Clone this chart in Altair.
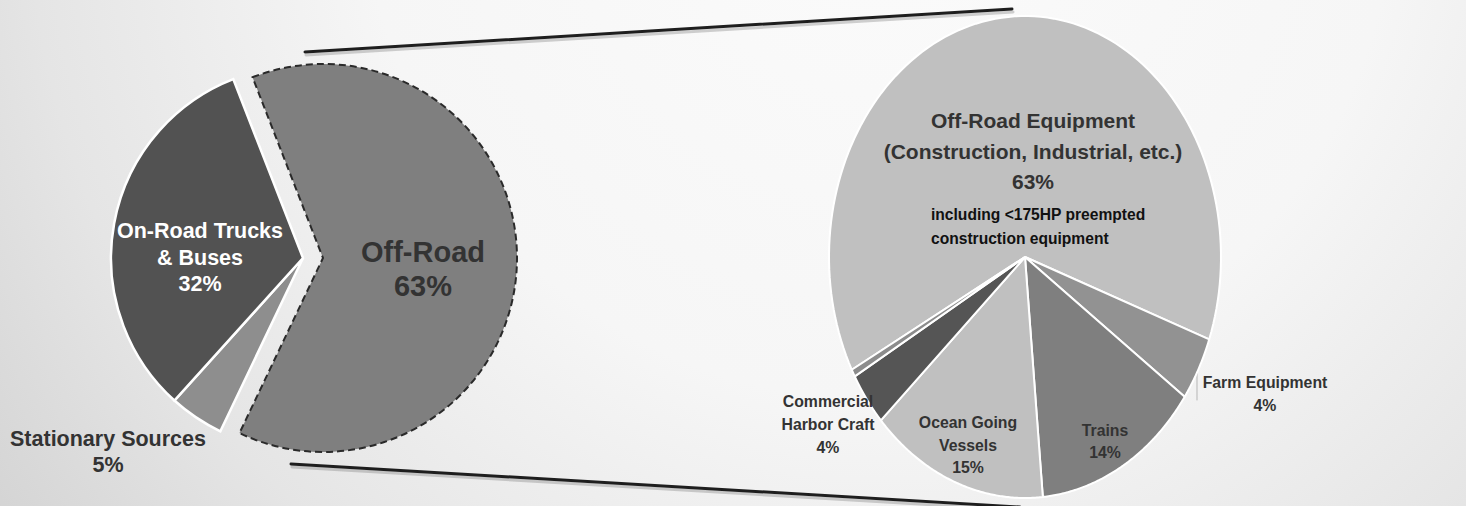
import math
import altair as alt
import pandas as pd

# ---------------- data ----------------
left_names = ["Off-Road", "Stationary Sources", "On-Road Trucks & Buses"]
left_values = [63.0, 4.6, 32.4]
left_colors = ["#7f7f7f", "#8e8e8e", "#525252"]

sub_names = ["Off-Road Equipment", "Farm Equipment", "Trains",
             "Ocean Going Vessels", "Commercial Harbor Craft", "Other"]
sub_values = [63.3, 4.3, 13.7, 14.6, 3.6, 0.5]
sub_colors = ["#c0c0c0", "#929292", "#7f7f7f", "#c0c0c0", "#555555", "#8c8c8c"]

W, H = 1466, 506
LEFT_START = math.radians(-21.3)
RIGHT_START = math.radians(-117.9)
N = 120
SANS = "Liberation Sans, Arial, sans-serif"


def pct(v):
    return f"{round(v)}%"


left_df = pd.DataFrame({"name": left_names, "value": left_values,
                        "order": list(range(len(left_names)))})
sub_df = pd.DataFrame({"name": sub_names, "value": sub_values,
                       "order": list(range(len(sub_names)))})

one = alt.Data(values=[{}])

# ---------------- background ----------------
bg = alt.Chart(one).mark_rect(
    fill={"gradient": "radial", "x1": 0.6, "y1": 0.25, "r1": 0,
          "x2": 0.6, "y2": 0.25, "r2": 1.0,
          "stops": [{"offset": 0, "color": "#fbfbfb"},
                    {"offset": 0.35, "color": "#f6f6f6"},
                    {"offset": 0.58, "color": "#e5e5e5"},
                    {"offset": 0.75, "color": "#d3d3d3"},
                    {"offset": 1.0, "color": "#bdbdbd"}]}
).encode(x=alt.value(0), x2=alt.value(W), y=alt.value(0), y2=alt.value(H))


def rule(x1, y1, x2, y2, color, width, opacity=1.0):
    return alt.Chart(one).mark_rule(color=color, strokeWidth=width, opacity=opacity,
                                    strokeCap="round").encode(
        x=alt.value(x1), y=alt.value(y1), x2=alt.value(x2), y2=alt.value(y2))


lines = [
    rule(306, 55, 1013, 12, "#7a7a7a", 3, 0.35),
    rule(305, 52, 1012, 9, "#1e1e1e", 3),
    rule(292, 467, 1021, 510, "#7a7a7a", 3, 0.35),
    rule(291, 464, 1020, 507, "#1e1e1e", 3),
    rule(1197, 373, 1197, 400, "#b5b5b5", 1),
]

# ---------------- left pie ----------------
left_total = sum(left_values)
theta_scale = alt.Scale(domain=[0, left_total],
                        range=[LEFT_START, LEFT_START + 2 * math.pi])
color_left = alt.Scale(domain=left_names, range=left_colors)

left_base = alt.Chart(left_df).transform_window(
    cum="sum(value)", frame=[None, 0], sort=[alt.SortField("order")]
).transform_calculate(t0="datum.cum - datum.value")

left_main = left_base.transform_filter(alt.datum.name != "Off-Road").mark_arc(
    radius=192, stroke="white", strokeWidth=2.5
).encode(
    theta=alt.Theta("t0:Q", scale=theta_scale),
    theta2="cum:Q",
    color=alt.Color("name:N", scale=color_left, legend=None),
    x=alt.value(303), y=alt.value(258),
)

left_exploded = left_base.transform_filter(alt.datum.name == "Off-Road").mark_arc(
    radius=194, stroke="#2a2a2a", strokeWidth=2, strokeDash=[7, 4]
).encode(
    theta=alt.Theta("t0:Q", scale=theta_scale),
    theta2="cum:Q",
    color=alt.Color("name:N", scale=color_left, legend=None),
    x=alt.value(323), y=alt.value(258),
)

# ---------------- right (elliptical) pie ----------------
right = alt.Chart(sub_df).transform_window(
    cum="sum(value)", frame=[None, 0], sort=[alt.SortField("order")]
).transform_joinaggregate(total="sum(value)").transform_calculate(
    a0=f"{RIGHT_START} + 2*PI*(datum.cum - datum.value)/datum.total",
    a1=f"{RIGHT_START} + 2*PI*datum.cum/datum.total",
    steps=f"sequence(0, {N + 2})",
).transform_flatten(["steps"]).transform_calculate(
    ang=f"datum.a0 + (datum.steps - 1)*(datum.a1 - datum.a0)/{N - 1}",
).transform_calculate(
    px=f"(datum.steps == 0 || datum.steps == {N + 1}) ? 0 : sin(datum.ang)",
    py=f"(datum.steps == 0 || datum.steps == {N + 1}) ? 0 : cos(datum.ang)",
).mark_line(stroke="white", strokeWidth=2, strokeJoin="round").encode(
    x=alt.X("px:Q", scale=alt.Scale(domain=[-1, 1], range=[829, 1221], nice=False), axis=None),
    y=alt.Y("py:Q", scale=alt.Scale(domain=[-1, 1], range=[498, 16], nice=False), axis=None),
    fill=alt.Fill("name:N", scale=alt.Scale(domain=sub_names, range=sub_colors), legend=None),
    detail="name:N",
    order="steps:Q",
)


# ---------------- labels (y = first line) ----------------
def label(lines_, x, y, size, lh, color="#333333", align="center"):
    return alt.Chart(one).mark_text(
        text=lines_, font=SANS, fontSize=size, fontWeight="bold", color=color,
        align=align, baseline="middle", lineHeight=lh
    ).encode(x=alt.value(x), y=alt.value(y))


texts = [
    label(["On-Road Trucks", "& Buses", pct(left_values[2])], 200, 232, 21.5, 26.5, color="white"),
    label(["Off-Road", pct(left_values[0])], 423, 253, 29, 34),
    label(["Stationary Sources", pct(left_values[1])], 108, 440, 21.5, 26),
    label(["Off-Road Equipment", "(Construction, Industrial, etc.)", pct(sub_values[0])],
          1033, 122, 21, 30.5),
    label(["including <175HP preempted", "construction equipment"],
          931, 215, 15.6, 23.5, color="#111111", align="left"),
    label(["Farm Equipment", pct(sub_values[1])], 1265, 383, 15.8, 23),
    label(["Trains", pct(sub_values[2])], 1105, 431, 15.8, 22),
    label(["Ocean Going", "Vessels", pct(sub_values[3])], 968, 423, 15.8, 22.5),
    label(["Commercial", "Harbor Craft", pct(sub_values[4])], 828, 402, 15.8, 23),
]

chart = alt.layer(bg, *lines, left_main, left_exploded, right, *texts).properties(
    width=W, height=H, padding=0, autosize="none", background="#f2f2f2"
).configure_view(stroke=None)

chart.save("out.html", embed_options={"renderer": "svg", "actions": False})
